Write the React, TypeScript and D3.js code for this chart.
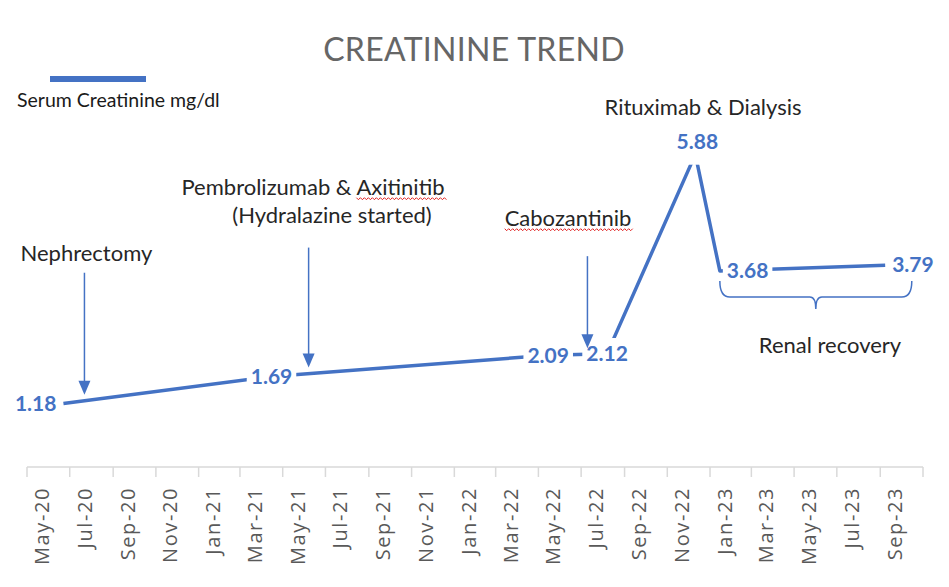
import React, { useRef, useEffect } from "react";
import * as d3 from "d3";

const width = 949;
const height = 587;

// serum creatinine readings (mg/dl)
const readingDates = ["2020-06-22", "2021-04-15", "2022-05-15", "2022-08-07", "2022-12-11", "2023-01-15", "2023-09-08"];
const creatinine = [1.18, 1.69, 2.09, 2.12, 5.88, 3.68, 3.79];
const labelSides = ["left", "center", "center", "center", "above", "right", "right"];

// treatment events with arrows
const eventNames = ["Nephrectomy", "Pembrolizumab & Axitinitib", "Cabozantinib"];
const eventSubtitles = ["", "(Hydralazine started)", ""];
const eventDates = ["2020-07-22", "2021-06-07", "2022-07-10"];

// renal recovery span
const recoveryStart = "2023-01-15";
const recoveryEnd = "2023-10-16";

const axisStart = "2020-05-01";
const axisEnd = "2023-11-01";

const blue = "#4472C4";
const font = "Lato, 'Open Sans', sans-serif";

const App = () => {
    const svgRef = useRef<SVGSVGElement>(null);

    useEffect(() => {
        const parse = d3.utcParse("%Y-%m-%d");
        const svg = d3.select(svgRef.current);
        svg.selectAll("*").remove();

        const x = d3.scaleUtc()
            .domain([parse(axisStart), parse(axisEnd)])
            .range([27, 923]);
        const y = d3.scaleLinear().domain([0, 7]).range([466, 95]);

        const points = readingDates.map((d, i) => ({ date: parse(d), value: creatinine[i], side: labelSides[i] }));

        // title
        svg.append("text")
            .attr("x", 474).attr("y", 50)
            .attr("dy", "0.35em")
            .attr("text-anchor", "middle")
            .style("font-family", font)
            .style("font-size", "32px")
            .style("letter-spacing", "0.3px")
            .attr("fill", "#666")
            .text("CREATININE TREND");

        // legend
        svg.append("line")
            .attr("x1", 50).attr("x2", 146)
            .attr("y1", 79).attr("y2", 79)
            .attr("stroke", blue).attr("stroke-width", 6);
        svg.append("text")
            .attr("x", 17).attr("y", 100)
            .attr("dy", "0.35em")
            .style("font-family", font)
            .style("font-size", "19.5px")
            .attr("fill", "#1a1a1a")
            .text("Serum Creatinine mg/dl");

        // x axis
        const axisY = y(0) + 1;
        svg.append("line")
            .attr("x1", x.range()[0]).attr("x2", x.range()[1])
            .attr("y1", axisY).attr("y2", axisY)
            .attr("stroke", "#d9d9d9").attr("stroke-width", 1.5);

        const tickDates = d3.utcMonth.every(2)!.range(parse(axisStart)!, d3.utcDay.offset(parse(axisEnd)!, 1));
        svg.selectAll(".tick")
            .data(tickDates)
            .enter().append("line")
            .attr("x1", d => x(d)).attr("x2", d => x(d))
            .attr("y1", axisY).attr("y2", axisY + 10)
            .attr("stroke", "#d9d9d9").attr("stroke-width", 1.5);

        const fmt = d3.utcFormat("%b-%y");
        svg.selectAll(".tlabel")
            .data(tickDates.slice(0, -1))
            .enter().append("text")
            .attr("transform", d => {
                const cx = (x(d) + x(d3.utcMonth.offset(d, 1))) / 2;
                return `translate(${cx},${axisY + 20}) rotate(-90)`;
            })
            .attr("dy", "0.55em")
            .attr("text-anchor", "end")
            .style("font-family", "'Open Sans', sans-serif")
            .style("font-size", "20px")
            .style("letter-spacing", "1.6px")
            .attr("fill", "#595959")
            .text(d => fmt(d));

        // line
        const line = d3.line<any>().x(d => x(d.date)).y(d => y(d.value));
        svg.append("path")
            .datum(points)
            .attr("d", line)
            .attr("fill", "none")
            .attr("stroke", blue)
            .attr("stroke-width", 3.5)
            .attr("stroke-linejoin", "round");

        // data labels with white boxes
        const lg = svg.append("g");
        points.forEach(p => {
            const px = x(p.date!), py = y(p.value);
            const t = lg.append("text")
                .attr("dy", "0.35em")
                .style("font-family", font)
                .style("font-size", "21px")
                .style("font-weight", 700)
                .attr("fill", blue)
                .text(p.value.toFixed(2));
            if (p.side === "left") t.attr("x", px - 7).attr("y", py).attr("text-anchor", "end");
            else if (p.side === "right") t.attr("x", px + 7).attr("y", py).attr("text-anchor", "start");
            else if (p.side === "above") t.attr("x", px + 2).attr("y", py - 13).attr("text-anchor", "middle");
            else t.attr("x", px).attr("y", py).attr("text-anchor", "middle");
            const bb = (t.node() as SVGTextElement).getBBox();
            const padY = p.side === "above" ? 12 : 2;
            lg.insert("rect", () => t.node())
                .attr("x", bb.x - 4).attr("y", bb.y - 2)
                .attr("width", bb.width + 8).attr("height", bb.height + 2 + padY)
                .attr("fill", "#fff");
        });

        // arrows for events
        const interp = (date: Date) => {
            const t = date.getTime();
            for (let i = 0; i < points.length - 1; i++) {
                const a = points[i], b = points[i + 1];
                if (t >= a.date!.getTime() && t <= b.date!.getTime()) {
                    const f = (t - a.date!.getTime()) / (b.date!.getTime() - a.date!.getTime());
                    return a.value + f * (b.value - a.value);
                }
            }
            return points[0].value;
        };

        const arrowLengths = [122, 120, 92];
        const arrowGroup = svg.append("g");
        eventDates.forEach((d, i) => {
            const ex = x(parse(d)!);
            const tipY = y(interp(parse(d)!)) - 6;
            arrowGroup.append("line")
                .attr("x1", ex).attr("x2", ex)
                .attr("y1", tipY - arrowLengths[i]).attr("y2", tipY - 8)
                .attr("stroke", blue).attr("stroke-width", 1.5);
            arrowGroup.append("path")
                .attr("d", `M${ex - 6},${tipY - 14} L${ex + 6},${tipY - 14} L${ex},${tipY} Z`)
                .attr("fill", blue);
        });

        // event texts
        const annotate = (txt: string, cx: number, cy: number) =>
            svg.append("text")
                .attr("x", cx).attr("y", cy)
                .attr("dy", "0.35em")
                .attr("text-anchor", "middle")
                .style("font-family", font)
                .style("font-size", "22px")
                .attr("fill", "#262626")
                .text(txt);

        const squiggle = (t: any, word: string) => {
            const node = t.node() as SVGTextElement;
            const s = node.textContent!.indexOf(word);
            const x0 = node.getStartPositionOfChar(s).x;
            const x1 = node.getEndPositionOfChar(s + word.length - 1).x;
            const by = node.getBBox().y + node.getBBox().height - 2;
            let p = `M${x0},${by}`;
            for (let xx = x0, k = 0; xx < x1; xx += 2, k++) p += ` L${xx + 2},${by + (k % 2 ? 0 : 2)}`;
            svg.append("path").attr("d", p).attr("fill", "none").attr("stroke", "#e02020").attr("stroke-width", 1);
        };

        annotate(eventNames[0], x(parse(eventDates[0])!) + 2, 253);
        const pembro = annotate(eventNames[1], 313, 187);
        annotate(eventSubtitles[1], 332, 215);
        const cabo = annotate(eventNames[2], 568, 218);
        squiggle(pembro, "Axitinitib");
        squiggle(cabo, "Cabozantinib");

        annotate("Rituximab & Dialysis", 703, 107);

        // renal recovery bracket
        const b1 = x(parse(recoveryStart)!), b2 = x(parse(recoveryEnd)!);
        const top = Math.max(y(points[5].value), y(points[6].value)) + 10;
        const bot = top + 16;
        const mid = (b1 + b2) / 2;
        svg.append("path")
            .attr("d", `M${b1},${top} Q${b1},${bot} ${b1 + 10},${bot} L${mid - 6},${bot} Q${mid},${bot} ${mid},${bot + 12} Q${mid},${bot} ${mid + 6},${bot} L${b2 - 10},${bot} Q${b2},${bot} ${b2},${top}`)
            .attr("fill", "none")
            .attr("stroke", blue)
            .attr("stroke-width", 1.5);
        annotate("Renal recovery", 830, 345);
    }, []);

    return <svg ref={svgRef} width={width} height={height} style={{ display: "block", position: "absolute", left: 0, top: 0, background: "#fff" }}></svg>;
};

export default App;
